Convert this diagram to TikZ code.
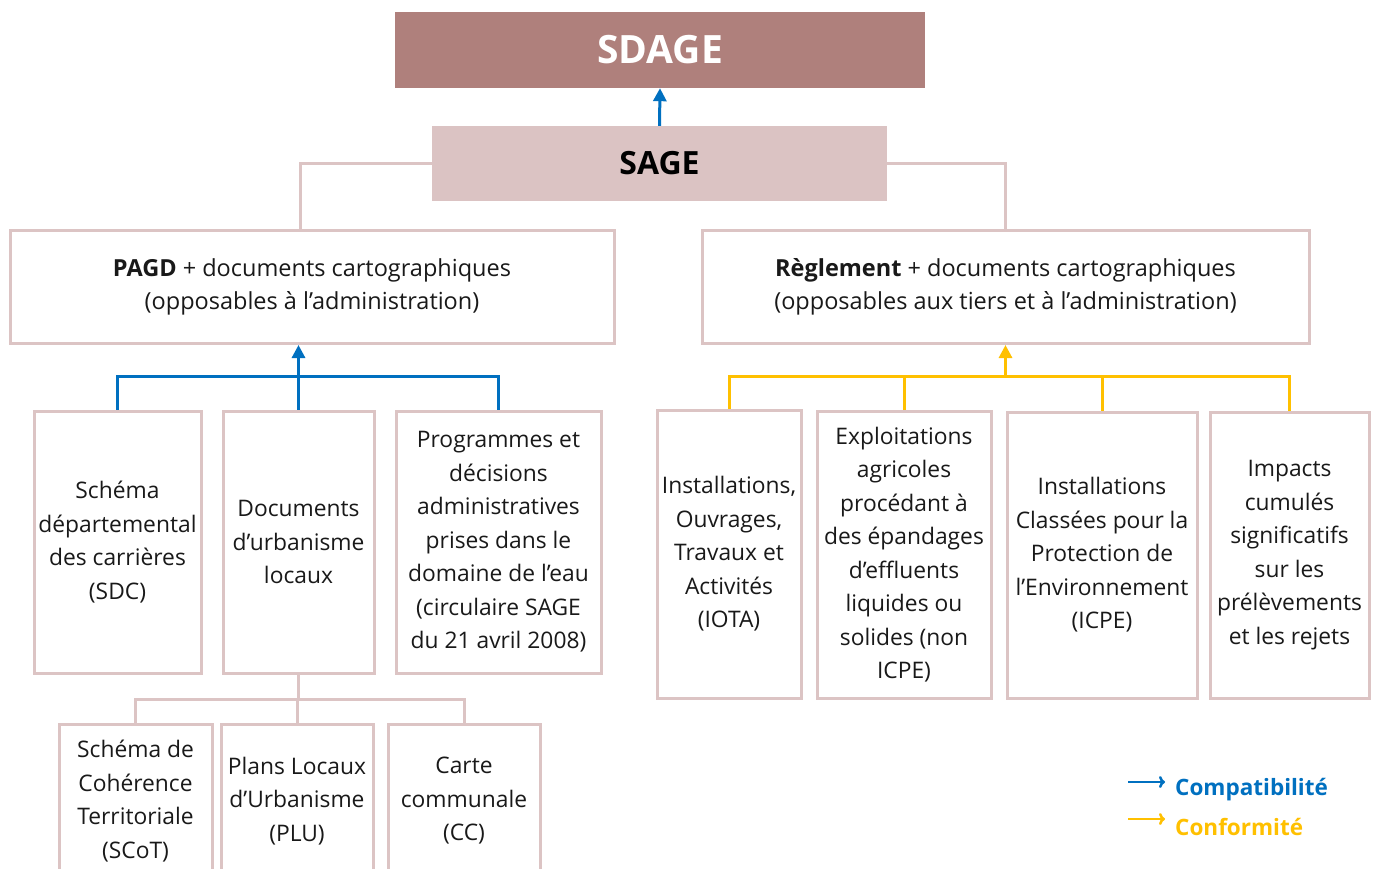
\documentclass[tikz,border=0pt]{standalone}
\usepackage{fontspec}
\setmainfont{Open Sans}
\usetikzlibrary{arrows.meta}
\definecolor{sdagefill}{RGB}{175,128,124}
\definecolor{sagefill}{RGB}{219,195,195}
\definecolor{pinkline}{RGB}{220,196,196}
\definecolor{cblue}{RGB}{0,112,192}
\definecolor{cyellow}{RGB}{255,192,0}
\begin{document}
\begin{tikzpicture}[x=1pt,y=-1pt,
  box/.style={draw=pinkline,line width=3pt,fill=white,inner sep=0pt,align=center,
    text=black!90,font=\fontsize{22.8}{33.5}\selectfont},
  headbox/.style={box,font=\fontsize{23.5}{33.5}\selectfont},
  topbox/.style={inner sep=0pt,align=center},
  pinkconn/.style={draw=pinkline,line width=3pt},
  blueconn/.style={draw=cblue,line width=3pt},
  yellowconn/.style={draw=cyellow,line width=3pt},
  uparrow/.style={-{Triangle[width=13pt,length=13pt]}},
  legendarrow/.style={line width=2.5pt,-{To[length=6pt,width=12pt]}},
  legendtext/.style={anchor=west,inner sep=0pt,font=\fontsize{22.5}{26}\selectfont\bfseries}
]
\clip (0,0) rectangle (1374,868);
\fill[white] (0,0) rectangle (1374,868);

% top boxes
\node[topbox,fill=sdagefill,minimum width=530pt,minimum height=76pt,text=white,
  font=\fontsize{39}{42}\selectfont\bfseries] (sdage) at (660,50) {SDAGE};
\node[topbox,fill=sagefill,minimum width=455pt,minimum height=75pt,text=black,
  font=\fontsize{32}{36}\selectfont\bfseries] (sage) at (659.5,163.5) {SAGE};

% second level
\node[headbox,minimum width=604pt,minimum height=113pt] (pagd) at (312,287)
  {\textbf{PAGD} + documents cartographiques\\(opposables à l’administration)};
\node[headbox,minimum width=607pt,minimum height=113pt] (regl) at (1005.5,287)
  {\textbf{Règlement} + documents cartographiques\\(opposables aux tiers et à l’administration)};

% left children
\node[box,minimum width=167pt,minimum height=262pt] (b1) at (117.5,542)
  {Schéma\\départemental\\des carrières\\(SDC)};
\node[box,minimum width=151pt,minimum height=262pt] (b2) at (298.5,542)
  {Documents\\d’urbanisme\\locaux};
\node[box,minimum width=205pt,minimum height=262pt] (b3) at (498.5,542)
  {Programmes et\\décisions\\administratives\\prises dans le\\domaine de l’eau\\(circulaire SAGE\\du 21 avril 2008)};

% right children
\node[box,minimum width=144pt,minimum height=288pt] (b4) at (729,554)
  {Installations,\\Ouvrages,\\Travaux et\\Activités\\(IOTA)};
\node[box,minimum width=174pt,minimum height=287pt] (b5) at (904,554.5)
  {Exploitations\\agricoles\\procédant à\\des épandages\\d’effluents\\liquides ou\\solides (non\\ICPE)};
\node[box,minimum width=190pt,minimum height=286pt] (b6) at (1102,555)
  {Installations\\Classées pour la\\Protection de\\l’Environnement\\(ICPE)};
\node[box,minimum width=159pt,minimum height=286pt] (b7) at (1289.5,555)
  {Impacts\\cumulés\\significatifs\\sur les\\prélèvements\\et les rejets};

% bottom children
\node[box,minimum width=153pt,minimum height=154pt] (b8) at (135.5,801)
  {Schéma de\\Cohérence\\Territoriale\\(SCoT)};
\node[box,minimum width=152pt,minimum height=154pt] (b9) at (297,801)
  {Plans Locaux\\d’Urbanisme\\(PLU)};
\node[box,minimum width=152pt,minimum height=154pt] (b10) at (464,801)
  {Carte\\communale\\(CC)};

% SAGE -> SDAGE
\draw[blueconn,uparrow] (sage.north) -- (sdage.south);

% SAGE to second level
\draw[pinkconn] (sage.west) -| ([xshift=-12pt]pagd.north);
\draw[pinkconn] (sage.east) -| (regl.north);

% blue tree
\coordinate (bj) at (298.5,376);
\draw[blueconn] (b1.north) |- (bj) -| (b3.north);
\draw[blueconn] (b2.north) -- (bj);
\draw[blueconn,uparrow] (bj) -- (bj |- pagd.south);

% yellow tree
\coordinate (yj) at (1005.5,376);
\draw[yellowconn] (b4.north) |- (yj) -| (b7.north);
\draw[yellowconn] (b5.north) -- (b5.north |- yj);
\draw[yellowconn] (b6.north) -- (b6.north |- yj);
\draw[yellowconn,uparrow] (yj) -- (regl.south);

% bottom pink tree
\coordinate (pj) at (298.5,699);
\draw[pinkconn] (b2.south) -- (pj);
\draw[pinkconn] (b8.north) |- (pj) -| (b10.north);
\draw[pinkconn] (b9.north) -- (b9.north |- pj);

% legend
\coordinate (la1) at (1128,782);
\coordinate (la2) at (1165,782);
\coordinate (lb1) at (1128,819);
\coordinate (lb2) at (1165,819);
\draw[cblue,legendarrow] (la1) -- (la2);
\draw[cyellow,legendarrow] (lb1) -- (lb2);
\node[legendtext,text=cblue] (lta) at (1175,790) {Compatibilité};
\node[legendtext,text=cyellow] (ltb) at (1175,827) {Conformité};
\end{tikzpicture}
\end{document}
